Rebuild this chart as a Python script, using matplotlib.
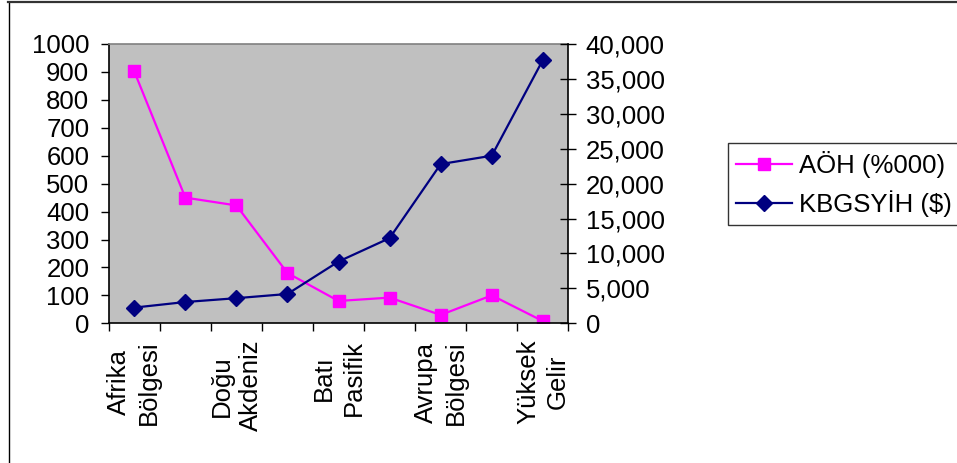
import matplotlib
matplotlib.use("Agg")
import matplotlib.pyplot as plt
from matplotlib.lines import Line2D
from matplotlib.ticker import FuncFormatter, MultipleLocator

# veriler
categories = ["Afrika\nBölgesi", "", "Doğu\nAkdeniz", "", "Batı\nPasifik",
              "", "Avrupa\nBölgesi", "", "Yüksek\nGelir"]
aoh = [902, 450, 422, 180, 80, 92, 30, 100, 8]                 # AÖH (%000)
kbgsyih = [2250, 3050, 3600, 4200, 8850, 12200, 22800, 24000, 37700]  # KBGSYİH ($)

plt.rcParams["font.family"] = ["Liberation Sans", "DejaVu Sans"]
plt.rcParams["font.size"] = 18.5

fig = plt.figure(figsize=(9.57, 4.63), dpi=100)
ax = fig.add_axes([0.1136, 0.3017, 0.4803, 0.6033])
ax2 = ax.twinx()

x = list(range(1, len(categories) + 1))

ax.set_facecolor("#C0C0C0")
l1, = ax.plot(x, aoh, color="#FF00FF", marker="s", markersize=8, linewidth=1.6,
              label="AÖH (%000)")
l2, = ax2.plot(x, kbgsyih, color="#000080", marker="D", markersize=8, linewidth=1.6,
               label="KBGSYİH ($)")

ax.set_xlim(0.5, len(categories) + 0.5)
ax.set_ylim(0, 1000)
ax2.set_ylim(0, 40000)
ax.yaxis.set_major_locator(MultipleLocator(100))
ax2.yaxis.set_major_locator(MultipleLocator(5000))
ax2.yaxis.set_major_formatter(FuncFormatter(lambda v, p: f"{int(v):,}"))

# kategori sınırlarında çentik, etiketler ortada
ax.set_xticks([i + 0.5 for i in range(len(categories) + 1)])
ax.set_xticklabels([])
ax.set_xticks(x, minor=True)
ax.set_xticklabels(categories, minor=True, rotation=90, va="top", ha="center",
                   multialignment="center", linespacing=1.3)
ax.tick_params(axis="x", which="major", direction="out", length=5.5, width=1, color="black")
ax.tick_params(axis="x", which="minor", length=0, pad=12)
ax.tick_params(axis="y", direction="out", length=6, width=1, pad=8)
ax2.tick_params(axis="y", direction="inout", length=11, width=1, pad=7)

for s in ["left", "bottom"]:
    ax.spines[s].set_color("black")
    ax.spines[s].set_linewidth(1.2)
ax.spines["top"].set_color("#808080")
ax.spines["top"].set_linewidth(1.2)
ax.spines["right"].set_visible(False)
ax2.spines["right"].set_color("black")
ax2.spines["right"].set_linewidth(1.2)
for s in ["left", "top", "bottom"]:
    ax2.spines[s].set_visible(False)

leg = fig.legend(handles=[l1, l2], loc="center left",
                 bbox_to_anchor=(728 / 957, 1 - 184 / 463),
                 frameon=True, fancybox=False, shadow=False,
                 handlelength=2.2, handletextpad=0.25, borderpad=0.3,
                 labelspacing=0.5, borderaxespad=0)
leg.get_frame().set_edgecolor("black")
leg.get_frame().set_linewidth(1)

# dış çerçeve
fig.add_artist(Line2D([8.5 / 957, 8.5 / 957], [0, 1 - 1.5 / 463], color="black",
                      linewidth=1, transform=fig.transFigure))
fig.add_artist(Line2D([8 / 957, 1], [1 - 1.5 / 463, 1 - 1.5 / 463], color="#333333",
                      linewidth=1.6, transform=fig.transFigure))

fig.savefig("out.png", dpi=100)
